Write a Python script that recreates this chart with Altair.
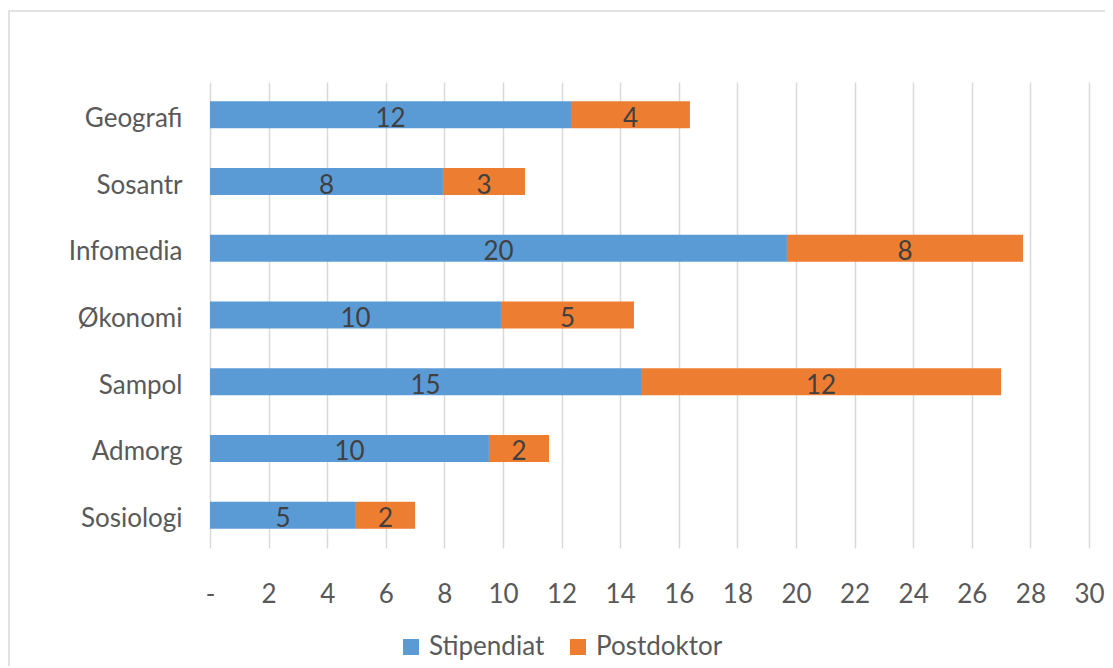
import altair as alt
import pandas as pd

kategorier = ["Geografi", "Sosantr", "Infomedia", "Økonomi", "Sampol", "Admorg", "Sosiologi"]
serier = ["Stipendiat", "Postdoktor"]
stipendiat = [12.32, 7.95, 19.69, 9.93, 14.71, 9.52, 4.98]
postdoktor = [4.06, 2.80, 8.06, 4.54, 12.29, 2.05, 2.02]
farger = ["#5b9bd5", "#ed7d31"]
x_ticks = list(range(0, 31, 2))

rows = []
for i, k in enumerate(kategorier):
    rows.append({"Kategori": k, "Serie": serier[0], "Verdi": stipendiat[i], "rekke": 0})
    rows.append({"Kategori": k, "Serie": serier[1], "Verdi": postdoktor[i], "rekke": 1})
df = pd.DataFrame(rows)

FONT = "Lato"
FS = 26

base = alt.Chart(df).transform_stack(
    stack="Verdi",
    groupby=["Kategori"],
    sort=[alt.SortField("rekke", order="ascending")],
    as_=["x0", "x1"],
).transform_calculate(mid="(datum.x0 + datum.x1) / 2")

yenc = alt.Y(
    "Kategori:N",
    sort=kategorier,
    scale=alt.Scale(paddingInner=0.595, paddingOuter=0.29),
    axis=alt.Axis(
        title=None, domain=False, ticks=False, grid=False,
        labelFontSize=FS, labelColor="#595959", labelPadding=28, labelFont=FONT,
        labelOffset=4,
    ),
)

bars = base.mark_bar().encode(
    y=yenc,
    x=alt.X(
        "x0:Q",
        scale=alt.Scale(domain=[0, 30], nice=False),
        axis=alt.Axis(
            title=None, values=x_ticks, domain=False, ticks=False, grid=True,
            gridColor="#d9d9d9", gridWidth=1.5, labelFlush=False, labelOverlap=False,
            labelFontSize=FS, labelColor="#595959", labelPadding=33, labelFont=FONT,
            labelExpr="datum.value == 0 ? '-' : datum.label",
        ),
    ),
    x2="x1:Q",
    color=alt.Color(
        "Serie:N",
        scale=alt.Scale(domain=serier, range=farger),
        legend=alt.Legend(
            title=None, orient="none", legendX=188, legendY=552, direction="horizontal",
            symbolType="square", symbolSize=256, symbolStrokeWidth=0, symbolOffset=0,
            labelFontSize=FS, labelColor="#595959", labelFont=FONT, columnPadding=20,
            labelOffset=5,
        ),
    ),
)

labels = base.mark_text(
    fontSize=FS, color="#404040", font=FONT, baseline="middle", dy=4
).encode(
    y=alt.Y("Kategori:N", sort=kategorier),
    x=alt.X("mid:Q"),
    text=alt.Text("Verdi:Q", format=".0f"),
)

border = alt.Chart(pd.DataFrame({"a": [0]})).mark_rect(
    fill=None, stroke="#d9d9d9", strokeWidth=1.5
).encode(
    x=alt.value(-201), x2=alt.value(940), y=alt.value(-71), y2=alt.value(640)
)

chart = alt.layer(border, bars, labels).properties(
    width=879,
    height=466,
    autosize=alt.AutoSizeParams(type="none"),
    padding={"left": 202, "top": 74, "right": 16, "bottom": 118},
    background="white",
).configure_view(stroke=None)

chart.save("out.html", embed_options={"renderer": "svg", "actions": False})
